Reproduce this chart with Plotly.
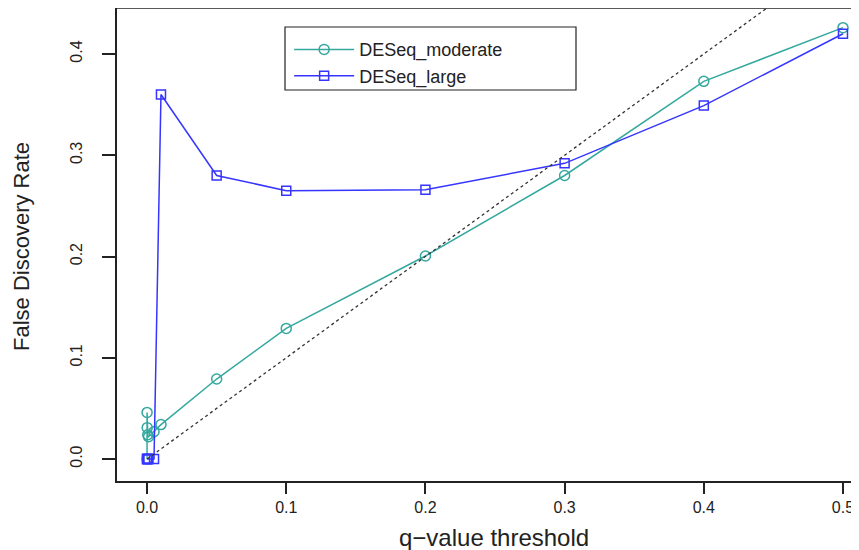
import plotly.graph_objects as go

# q-value thresholds
q_threshold = [0, 0.00001, 0.0001, 0.0005, 0.001, 0.005, 0.01, 0.05, 0.1, 0.2, 0.3, 0.4, 0.5]
# observed false discovery rates
fdr_moderate = [0.0, 0.046, 0.031, 0.024, 0.022, 0.027, 0.034, 0.079, 0.129, 0.2005, 0.280, 0.373, 0.426]
fdr_large = [0.0, 0.0, 0.0, 0.0, 0.0, 0.0, 0.360, 0.280, 0.265, 0.266, 0.292, 0.349, 0.420]
# identity reference line y = x
ref_x = [0.0, 0.5]
ref_y = [0.0, 0.5]

x_ticks = [0.0, 0.1, 0.2, 0.3, 0.4, 0.5]
x_ticktext = ["0.0", "0.1", "0.2", "0.3", "0.4", "0.5"]
y_ticks = [0.0, 0.1, 0.2, 0.3, 0.4]
y_ticktext = ["0.0", "0.1", "0.2", "0.3", "0.4"]

TEAL = "#34a89e"
BLUE = "#3535ff"
FONT = "Liberation Sans, Arial, sans-serif"
INK = "#222222"

fig = go.Figure()
fig.add_trace(go.Scatter(
    x=q_threshold, y=fdr_moderate, mode="lines+markers", name="DESeq_moderate",
    line=dict(color=TEAL, width=1.5),
    marker=dict(symbol="circle-open", size=10, color=TEAL, line=dict(width=1.5)),
))
fig.add_trace(go.Scatter(
    x=q_threshold, y=fdr_large, mode="lines+markers", name="DESeq_large",
    line=dict(color=BLUE, width=1.5),
    marker=dict(symbol="square-open", size=9, color=BLUE, line=dict(width=1.5)),
))
fig.add_trace(go.Scatter(
    x=ref_x, y=ref_y, mode="lines", showlegend=False, hoverinfo="skip",
    line=dict(color="#333333", width=1.3, dash="dot"),
))

axis_common = dict(
    showgrid=False, zeroline=False, showline=True, linecolor=INK, linewidth=1.5,
    ticks="outside", tickcolor=INK, tickwidth=1.5, automargin=False,
    tickfont=dict(family=FONT, size=16, color=INK),
)

fig.update_xaxes(range=[-0.0216, 0.5115], tickvals=x_ticks, ticktext=x_ticktext,
                 ticklen=11, ticklabelstandoff=0, **axis_common)
fig.update_yaxes(range=[-0.0217, 0.4454], tickvals=y_ticks, ticktext=y_ticktext,
                 ticklen=13, tickangle=-90, ticklabelstandoff=14, **axis_common)

# page has an 8px body margin; figure is sized/offset so the plot area
# lands at page x 117..859, y 8..481 (right part beyond the viewport is cropped)
fig.update_layout(
    width=859, height=542,
    margin=dict(l=109, r=8, t=0, b=69),
    paper_bgcolor="white", plot_bgcolor="white",
    font=dict(family=FONT, color=INK),
    showlegend=True,
    legend=dict(
        x=0.232, y=0.951, xanchor="left", yanchor="top",
        bgcolor="rgba(0,0,0,0)", borderwidth=0,
        font=dict(family=FONT, size=18, color=INK),
        itemwidth=60, tracegroupgap=0,
    ),
    shapes=[
        # top frame line
        dict(type="line", xref="paper", yref="paper", x0=0, x1=1, y0=1, y1=1,
             line=dict(color=INK, width=1.5)),
        # legend box
        dict(type="rect", xref="paper", yref="paper",
             x0=(285 - 117) / 742, x1=(576 - 117) / 742,
             y0=(481 - 90) / 473, y1=(481 - 27) / 473,
             line=dict(color=INK, width=1.2), fillcolor="rgba(0,0,0,0)"),
    ],
    annotations=[
        dict(text="q\u2212value threshold", xref="paper", yref="paper",
             x=(494 - 117) / 742, y=-(537 - 481) / 473, xanchor="center", yanchor="middle",
             showarrow=False, font=dict(family=FONT, size=24, color=INK)),
        dict(text="False Discovery Rate", xref="paper", yref="paper",
             x=-(117 - 22) / 742, y=(481 - 246) / 473, xanchor="center", yanchor="middle",
             textangle=-90, showarrow=False, font=dict(family=FONT, size=22, color=INK)),
    ],
)

fig.write_html("out.html")
